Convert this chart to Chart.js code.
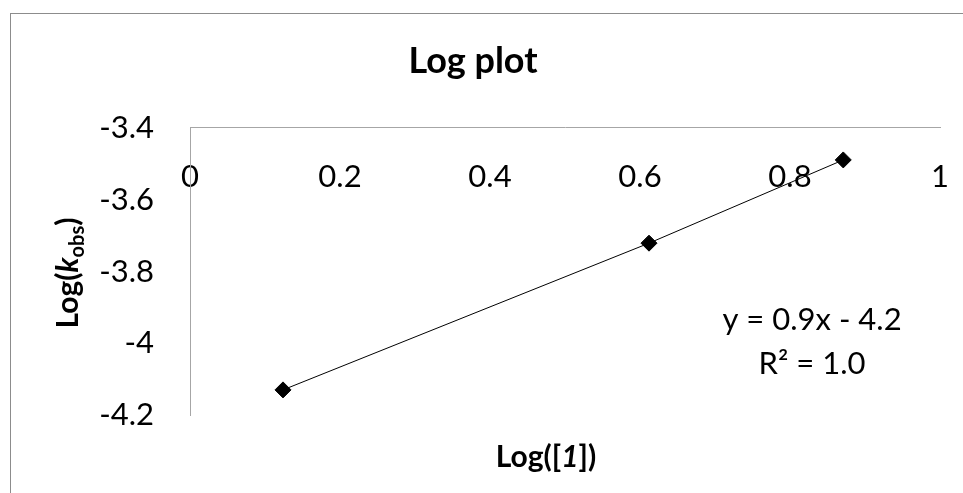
<!DOCTYPE html>
<html>
<head>
<meta charset="utf-8">
<script src="https://cdn.jsdelivr.net/npm/chart.js@4"></script>
<style>
  body { margin: 0; background: #fff; }
  #wrap { position: relative; width: 963px; height: 493px; overflow: hidden; }
  #frame { position: absolute; left: 10px; top: 13px; width: 1000px; height: 600px;
           border-left: 1px solid #8c8c8c; border-top: 1px solid #8c8c8c; }
  #logChart { position: absolute; left: 0; top: 0; }
</style>
</head>
<body>
<div id="wrap">
  <div id="frame"></div>
  <canvas id="logChart" width="963" height="493"></canvas>
</div>
<script>
// dados
const logConc = [0.124, 0.612, 0.871];
const logKobs = [-4.130, -3.721, -3.489];
const xTickValues = [0, 0.2, 0.4, 0.6, 0.8, 1];
const yTickValues = [-3.4, -3.6, -3.8, -4, -4.2];
const trendLabel = ['y = 0.9x - 4.2', 'R\u00b2 = 1.0'];

const FONT = 'Lato, Carlito, Calibri, sans-serif';

var points = logConc.map((x, i) => ({ x: x, y: logKobs[i] }));

// escreve texto com partes em estilos diferentes
function drawParts(ctx, parts, x, y) {
    var total = 0;
    parts.forEach(p => { ctx.font = p.font; total += ctx.measureText(p.text).width; });
    var cx = x - total / 2;
    parts.forEach(p => {
        ctx.font = p.font;
        ctx.fillText(p.text, cx, y + (p.dy || 0));
        cx += ctx.measureText(p.text).width;
    });
}

var titlesPlugin = {
    id: 'axisTitles',
    afterDraw(chart) {
        var ctx = chart.ctx;
        ctx.save();
        ctx.fillStyle = '#000';
        ctx.textBaseline = 'alphabetic';

        // titulo eixo x
        drawParts(ctx, [
            { text: 'Log([', font: 'bold 30px ' + FONT },
            { text: '1', font: 'italic bold 30px ' + FONT },
            { text: '])', font: 'bold 30px ' + FONT }
        ], 546, 467);

        // titulo eixo y (rotacionado)
        ctx.translate(78, 273);
        ctx.rotate(-Math.PI / 2);
        drawParts(ctx, [
            { text: 'Log(', font: 'bold 30px ' + FONT },
            { text: 'k', font: 'italic bold 30px ' + FONT },
            { text: 'obs', font: 'bold 20px ' + FONT, dy: 6 },
            { text: ')', font: 'bold 30px ' + FONT }
        ], 0, 0);
        ctx.restore();

        // equacao da linha de tendencia
        ctx.save();
        ctx.fillStyle = '#000';
        ctx.font = '31px ' + FONT;
        ctx.textAlign = 'center';
        ctx.textBaseline = 'middle';
        trendLabel.forEach((t, i) => ctx.fillText(t, 812, 320 + i * 44));
        ctx.restore();
    }
};

// sem padding extra das escalas, area fixa
function noPad(s) {
    s.paddingLeft = 0;
    s.paddingRight = 0;
    s.paddingTop = 0;
    s.paddingBottom = 0;
}

var ctx = document.getElementById('logChart').getContext('2d');

var logChart = new Chart(ctx, {
    type: 'scatter',
    data: {
        datasets: [{
            data: points,
            showLine: true,
            borderColor: '#000',
            borderWidth: 1,
            pointStyle: 'rectRot',
            pointRadius: 8,
            pointHoverRadius: 8,
            pointBackgroundColor: '#000',
            pointBorderColor: '#000'
        }]
    },
    options: {
        responsive: false,
        devicePixelRatio: 1,
        animation: false,
        layout: { padding: { left: 6, right: 23, top: 0, bottom: 78 } },
        plugins: {
            legend: { display: false },
            tooltip: { enabled: false },
            title: {
                display: true,
                text: 'Log plot',
                color: '#000',
                font: { family: FONT, size: 36, weight: 'bold' },
                padding: { top: 40, bottom: 10 }
            }
        },
        scales: {
            x: {
                type: 'linear',
                position: 'top',
                min: 0,
                max: 1,
                afterBuildTicks: s => { s.ticks = xTickValues.map(v => ({ value: v })); },
                afterFit: s => { s.height = 128 - 93.2; noPad(s); },
                grid: { display: false },
                border: { display: true, color: '#a6a6a6', width: 1 },
                ticks: {
                    mirror: true,
                    padding: 30,
                    color: '#000',
                    autoSkip: false,
                    maxRotation: 0,
                    callback: v => String(v),
                    font: { family: FONT, size: 31 }
                }
            },
            y: {
                type: 'linear',
                min: -4.2,
                max: -3.4,
                afterBuildTicks: s => { s.ticks = yTickValues.map(v => ({ value: v })); },
                afterFit: s => { s.width = 190 - 6; noPad(s); },
                grid: { display: false },
                border: { display: true, color: '#a6a6a6', width: 1 },
                ticks: {
                    padding: 28,
                    color: '#000',
                    callback: v => String(v),
                    font: { family: FONT, size: 31 }
                }
            }
        }
    },
    plugins: [titlesPlugin]
});
</script>
</body>
</html>
